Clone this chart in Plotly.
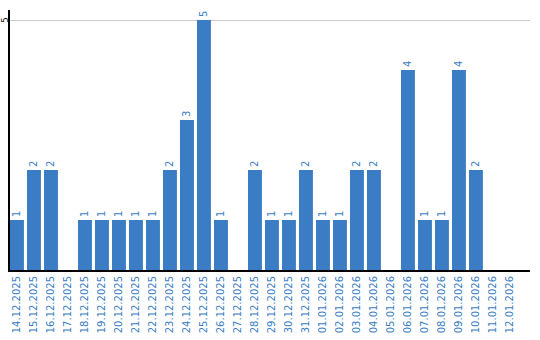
import plotly.graph_objects as go

dates = ["14.12.2025", "15.12.2025", "16.12.2025", "17.12.2025", "18.12.2025", "19.12.2025",
         "20.12.2025", "21.12.2025", "22.12.2025", "23.12.2025", "24.12.2025", "25.12.2025",
         "26.12.2025", "27.12.2025", "28.12.2025", "29.12.2025", "30.12.2025", "31.12.2025",
         "01.01.2026", "02.01.2026", "03.01.2026", "04.01.2026", "05.01.2026", "06.01.2026",
         "07.01.2026", "08.01.2026", "09.01.2026", "10.01.2026", "11.01.2026", "12.01.2026"]
counts = [1, 2, 2, 0, 1, 1, 1, 1, 1, 2, 3, 5, 1, 0, 2, 1, 1, 2, 1, 1, 2, 2, 0, 4, 1, 1, 4, 2, 0, 0]
y_ticks = [5]

labels = [str(v) if v > 0 else "" for v in counts]
blue = "#3b7dc4"

fig = go.Figure(go.Bar(
    x=dates, y=counts, text=labels, textposition="outside", textangle=-90,
    cliponaxis=False,
    textfont=dict(family="DejaVu Sans", size=10, color=blue),
    marker=dict(color=blue, line=dict(width=0)),
))
fig.update_layout(
    width=540, height=340,
    margin=dict(l=10, r=10, t=10, b=70),
    paper_bgcolor="white", plot_bgcolor="white",
    bargap=0.18, showlegend=False,
    font=dict(family="DejaVu Sans", size=10),
)
fig.update_xaxes(
    type="category", range=[-0.41, 30.18], tickangle=-90,
    tickfont=dict(family="DejaVu Sans", size=10, color=blue),
    showline=True, linecolor="black", linewidth=2, ticks="", showgrid=False, automargin=False,
)
fig.update_yaxes(
    range=[0, 5.2], tickvals=y_ticks, showticklabels=False,
    showline=True, linecolor="black", linewidth=2, showgrid=True, gridcolor="#cccccc",
    zeroline=False, ticks="", automargin=False,
)
for t in y_ticks:
    fig.add_annotation(
        x=0, xref="paper", y=t, yref="y", text=str(t), textangle=-90, showarrow=False,
        xanchor="right", yanchor="middle", xshift=0, borderpad=0,
        font=dict(family="DejaVu Sans", size=8, color="black"),
    )
fig.write_html("out.html")
